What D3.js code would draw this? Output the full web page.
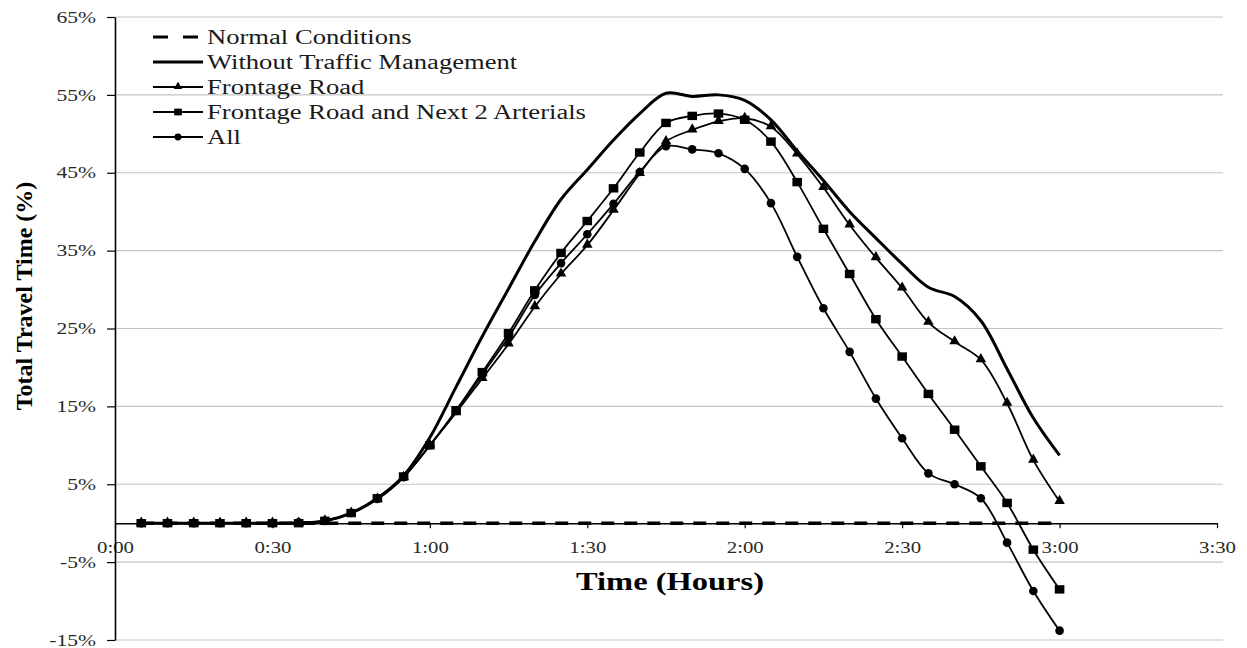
<!DOCTYPE html>
<html>
<head>
<meta charset="utf-8">
<script src="https://cdn.jsdelivr.net/npm/d3@7"></script>
<style>
	body { margin: 0; background: #fff; }
	svg { display: block; }
	text { font-family: "Liberation Serif", "Times New Roman", serif; }
</style>
</head>
<body>
<svg id="chart" width="1247" height="648"></svg>
<script>

// minutes after start, one point every 5 minutes
var minutes = [5, 10, 15, 20, 25, 30, 35, 40, 45, 50, 55, 60, 65, 70, 75, 80, 85, 90,
	95, 100, 105, 110, 115, 120, 125, 130, 135, 140, 145, 150, 155, 160, 165, 170, 175, 180];

var normalConditions = [0, 0, 0, 0, 0, 0, 0, 0, 0, 0, 0, 0, 0, 0, 0, 0, 0, 0,
	0, 0, 0, 0, 0, 0, 0, 0, 0, 0, 0, 0, 0, 0, 0, 0, 0, 0];

var withoutManagement = [0, 0, 0, 0, 0, 0, 0, 0.3, 1.3, 3.2, 6.1, 11.0, 17.5, 24.0, 30.1, 36.2, 41.6, 45.4,
	49.2, 52.6, 55.2, 54.8, 55.0, 54.3, 51.8, 47.8, 44.0, 40.0, 36.6, 33.3, 30.3, 29.1, 26.0, 19.8, 13.5, 8.7];

var frontageRoad = [0, 0, 0, 0, 0, 0, 0, 0.3, 1.3, 3.1, 5.9, 10.0, 14.2, 18.6, 23.0, 27.8, 32.0, 35.7,
	40.2, 44.9, 49.0, 50.5, 51.6, 52.0, 50.9, 47.4, 43.1, 38.3, 34.1, 30.2, 25.8, 23.3, 21.0, 15.4, 8.1, 2.8];

var frontageAndArterials = [0, 0, 0, 0, 0, 0, 0, 0.3, 1.3, 3.2, 6.0, 10.0, 14.5, 19.4, 24.4, 29.9, 34.7, 38.8,
	43.0, 47.6, 51.4, 52.3, 52.6, 51.8, 49.0, 43.8, 37.8, 32.0, 26.2, 21.4, 16.6, 12.0, 7.3, 2.6, -3.4, -8.5];

var allMeasures = [0, 0, 0, 0, 0, 0, 0.1, 0.3, 1.3, 3.1, 5.9, 10.0, 14.4, 19.1, 23.9, 29.3, 33.4, 37.1,
	41.0, 45.1, 48.4, 48.0, 47.5, 45.5, 41.1, 34.2, 27.6, 22.0, 16.0, 10.9, 6.4, 5.0, 3.2, -2.5, -8.7, -13.8];

var yTicks = [-15, -5, 5, 15, 25, 35, 45, 55, 65];
var xTickMinutes = [0, 30, 60, 90, 120, 150, 180, 210];
var xTickLabels = ["0:00", "0:30", "1:00", "1:30", "2:00", "2:30", "3:00", "3:30"];

var seriesNames = ["Normal Conditions", "Without Traffic Management", "Frontage Road",
	"Frontage Road and Next 2 Arterials", "All"];

var svg = d3.select("#chart");

var xScale = d3.scaleLinear()
	.domain([0, 210])
	.range([115, 1217]);

var yScale = d3.scaleLinear()
	.domain([-15, 65])
	.range([640, 17]);

//horizontally stretched text like in the source picture
function widen(sel, k) {
	sel.each(function() {
		var w = this.getComputedTextLength();
		d3.select(this)
			.attr("textLength", w * k)
			.attr("lengthAdjust", "spacingAndGlyphs");
	});
}

// gridlines
svg.append("g")
	.selectAll("line.grid")
	.data(yTicks)
	.enter()
	.append("line")
	.attr("class", "grid")
	.attr("x1", xScale(0))
	.attr("x2", xScale(210) + 6)
	.attr("y1", d => yScale(d))
	.attr("y2", d => yScale(d))
	.attr("stroke", "#c4c4c4")
	.attr("stroke-width", 1.2);

// x axis sits on the zero line
var xAxisG = svg.append("g")
	.attr("transform", "translate(0," + yScale(0) + ")")
	.call(d3.axisBottom(xScale)
		.tickValues(xTickMinutes)
		.tickSize(5)
		.tickSizeOuter(0)
		.tickPadding(13)
		.tickFormat((d, i) => xTickLabels[i]));

xAxisG.attr("font-family", null);
xAxisG.select(".domain").attr("stroke", "#000").attr("stroke-width", 1.5);
xAxisG.selectAll(".tick line").attr("stroke", "#000").attr("stroke-width", 1.2);
xAxisG.selectAll(".tick text")
	.attr("font-size", 16)
	.attr("font-family", "Liberation Serif")
	.attr("fill", "#2a2a2a");
widen(xAxisG.selectAll(".tick text"), 1.3);

var area = svg.append("g");

var line = d3.line()
	.curve(d3.curveCatmullRom.alpha(0.5))
	.x((d, i) => xScale(minutes[i]))
	.y(d => yScale(d));

area.append("path")
	.attr("d", line(normalConditions))
	.attr("fill", "none")
	.attr("stroke", "#000")
	.attr("stroke-width", 3.4)
	.attr("stroke-dasharray", "13,10");

area.append("path")
	.attr("d", line(withoutManagement))
	.attr("fill", "none")
	.attr("stroke", "#000")
	.attr("stroke-width", 3);

var markerSeries = [
	{ values: frontageRoad, shape: "triangle" },
	{ values: allMeasures, shape: "circle" },
	{ values: frontageAndArterials, shape: "square" }
];

function drawMarker(g, shape, x, y, small) {
	var s = small ? 0.8 : 1;
	if (shape == "circle") {
		g.append("circle")
			.attr("cx", x).attr("cy", y)
			.attr("r", 4.3 * s)
			.attr("fill", "#000");
	} else if (shape == "square") {
		g.append("rect")
			.attr("x", x - 4.8 * s).attr("y", y - 4.2 * s)
			.attr("width", 9.6 * s).attr("height", 8.4 * s)
			.attr("fill", "#000");
	} else {
		g.append("path")
			.attr("d", d3.symbol().type(d3.symbolTriangle).size(48 * s * s)())
			.attr("transform", "translate(" + x + "," + (y - 0.5) + ")")
			.attr("fill", "#000");
	}
}

markerSeries.forEach(function(s) {

	area.append("path")
		.attr("d", line(s.values))
		.attr("fill", "none")
		.attr("stroke", "#000")
		.attr("stroke-width", 1.8);

	var mg = area.append("g");
	s.values.forEach(function(v, i) {
		drawMarker(mg, s.shape, xScale(minutes[i]), yScale(v), false);
	});

});

// y axis drawn last so it crosses the 0:00 label like the original
var yAxisG = svg.append("g")
	.attr("transform", "translate(" + xScale(0) + ",0)")
	.call(d3.axisLeft(yScale)
		.tickValues(yTicks)
		.tickSize(8)
		.tickSizeOuter(0)
		.tickPadding(11)
		.tickFormat(d => d + "%"));

yAxisG.attr("font-family", null);
yAxisG.select(".domain").attr("stroke", "#000").attr("stroke-width", 1.6);
yAxisG.selectAll(".tick line").attr("stroke", "#000").attr("stroke-width", 1.2);
yAxisG.selectAll(".tick text")
	.attr("font-size", 16)
	.attr("font-family", "Liberation Serif")
	.attr("fill", "#2a2a2a");
widen(yAxisG.selectAll(".tick text"), 1.35);

// axis titles
var xTitle = svg.append("text")
	.attr("x", 670)
	.attr("y", 590)
	.attr("text-anchor", "middle")
	.attr("font-size", 25)
	.attr("font-weight", "bold")
	.attr("fill", "#000")
	.text("Time (Hours)");
widen(xTitle, 1.3);

svg.append("text")
	.attr("transform", "translate(32,296) rotate(-90)")
	.attr("text-anchor", "middle")
	.attr("font-size", 24)
	.attr("font-weight", "bold")
	.attr("fill", "#000")
	.text("Total Travel Time (%)");

// legend
var legend = svg.append("g").attr("transform", "translate(153,37)");
var legendShapes = ["dash", "solid", "triangle", "square", "circle"];

seriesNames.forEach(function(name, i) {

	var row = legend.append("g").attr("transform", "translate(0," + (i * 25) + ")");

	row.append("line")
		.attr("x1", 0).attr("x2", 50)
		.attr("y1", 0).attr("y2", 0)
		.attr("stroke", "#000")
		.attr("stroke-width", i < 2 ? 3 : 1.8)
		.attr("stroke-dasharray", i == 0 ? "15,15" : null);

	if (i >= 2) {
		drawMarker(row, legendShapes[i], 25, 0, true);
	}

	var t = row.append("text")
		.attr("x", 54)
		.attr("y", 0)
		.attr("dy", "0.33em")
		.attr("font-size", 20)
		.attr("fill", "#1a1a1a")
		.text(name);
	widen(t, 1.33);

});

</script>
</body>
</html>
